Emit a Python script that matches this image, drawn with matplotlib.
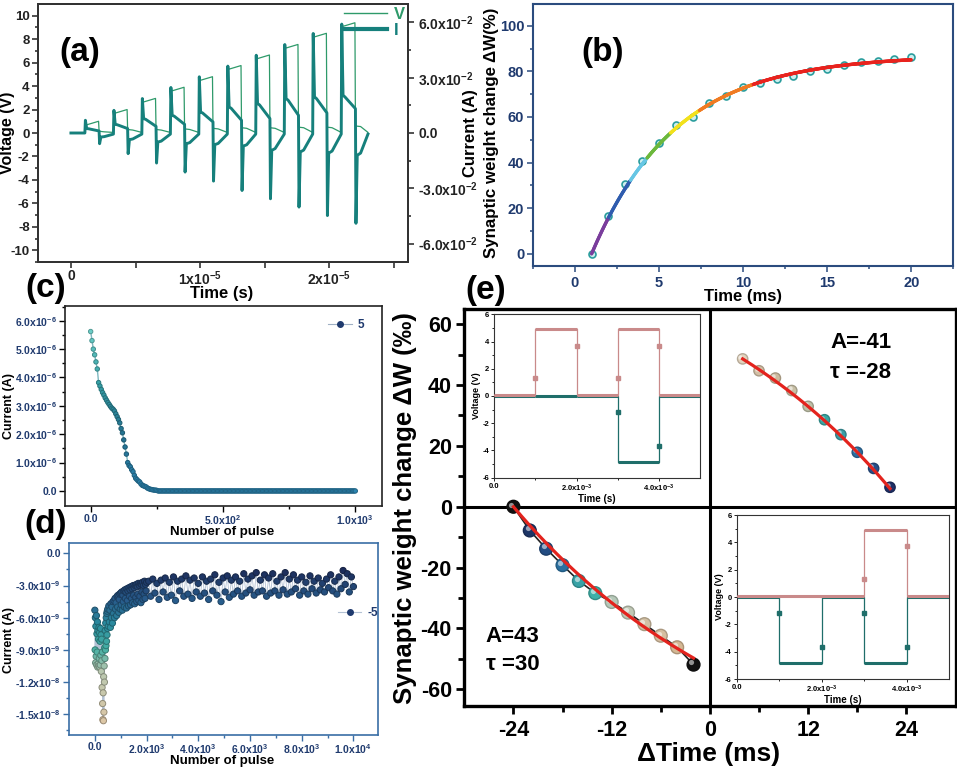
import numpy as np
import matplotlib
matplotlib.use('Agg')
import matplotlib.pyplot as plt
from matplotlib.collections import LineCollection
from matplotlib.colors import LinearSegmentedColormap, Normalize, to_rgb
from matplotlib.lines import Line2D
import matplotlib.transforms as mtransforms

plt.rcParams['font.family'] = ['Liberation Sans', 'DejaVu Sans']
plt.rcParams['font.weight'] = 'bold'
plt.rcParams['axes.labelweight'] = 'bold'
plt.rcParams['mathtext.fontset'] = 'custom'
plt.rcParams['mathtext.rm'] = 'Liberation Sans:bold'
plt.rcParams['mathtext.it'] = 'Liberation Sans:bold'
plt.rcParams['mathtext.bf'] = 'Liberation Sans:bold'
plt.rcParams['axes.unicode_minus'] = False

# ---------------- DATA ----------------
# (a) pulse train: times in units of 1e-5 s, V in volts, I in amperes
a_t_rise = [0.108, 0.329, 0.549, 0.770, 0.990, 1.211, 1.431, 1.652, 1.872, 2.093]
a_width = 0.110
a_t_end = 2.30
a_v_top = [0.95, 1.95, 2.9, 3.85, 4.75, 5.7, 6.6, 7.5, 8.45, 9.35]
a_v_after = [0.15, 0.3, 0.3, 0.35, 0.4, 0.45, 0.45, 0.5, 0.5, 0.6]
a_i_peak = [0.0069, 0.0123, 0.0187, 0.0247, 0.0305, 0.0363, 0.0422, 0.0480, 0.0540, 0.0591]
a_i_plat0 = [0.0024, 0.0047, 0.0078, 0.0096, 0.0114, 0.0141, 0.0160, 0.0187, 0.0196, 0.0205]
a_i_plat1 = [0.0011, 0.0024, 0.0036, 0.0047, 0.0060, 0.0069, 0.0078, 0.0096, 0.0109, 0.0132]
a_i_dip = [-0.0058, -0.0112, -0.0163, -0.0212, -0.0261, -0.0312, -0.0357, -0.0402, -0.0448, -0.0490]
a_i_rec = [-0.0022, -0.0036, -0.0049, -0.0058, -0.0063, -0.0071, -0.0094, -0.0103, -0.0109, -0.0121]

# (b) synaptic weight change vs time
b_time = [1, 2, 3, 4, 5, 6, 7, 8, 9, 10, 11, 12, 13, 14, 15, 16, 17, 18, 19, 20]
b_dw = [0, 16.6, 30.7, 40.9, 48.8, 56.5, 60.1, 66.0, 69.3, 73.0, 74.7, 76.8,
        78.0, 80.1, 81.0, 82.6, 84.1, 84.5, 85.3, 86.1]
b_fit_A, b_fit_tau, b_fit_t0 = 87.0, 5.0, 1.0
b_color_breaks = [1.0, 2.0, 3.3, 4.3, 5.7, 7.4, 10.6, 20.0]
b_seg_colors = ['#7a3d9c', '#2f5cae', '#66c6e4', '#6cb83c', '#f2e11c', '#f07b22', '#e8231e']

# (c) current vs pulse number (+5 V)
c_pulse_decay = list(range(0, 255, 5))
c_current_decay = [5.62, 5.30, 5.00, 4.80, 4.55, 4.30, 3.82, 3.70, 3.58, 3.47, 3.38, 3.28,
                   3.20, 3.12, 3.05, 2.98, 2.92, 2.88, 2.82, 2.72, 2.62, 2.52, 2.40, 2.20,
                   2.05, 1.80, 1.55, 1.30, 1.00, 0.90, 0.85, 0.75, 0.68, 0.55, 0.45, 0.40,
                   0.35, 0.32, 0.25, 0.20, 0.18, 0.16, 0.14, 0.10, 0.08, 0.06, 0.05, 0.04,
                   0.03, 0.03, 0.02]  # x1e-6 A
c_pulse_tail = list(range(255, 1001, 5))
c_tail_level = 0.0

# (d) current vs pulse number (-5 V), x1e-9 A
d_pulse = (list(range(0, 501, 10)) + list(range(520, 2001, 20)) + list(range(2080, 10001, 80)))
d_current = [
    -5.3, -9.0, -6.0, -10.2, -6.8, -9.6, -5.8, -10.4, -7.5, -9.2,
    -6.4, -10.6, -7.2, -10.3, -8.0, -10.5, -6.9, -9.8, -7.4, -10.6,
    -8.2, -10.4, -7.0, -9.5, -7.6, -11.0, -8.0, -10.0, -12.5, -9.2,
    -14.0, -15.5, -13.0, -15.6, -11.5, -14.8, -10.5, -12.0, -8.8, -9.8,
    -7.2, -9.0, -6.5, -8.6, -6.0, -8.2, -5.6, -7.6, -5.4, -7.0, -5.2,
    -6.8, -4.9, -6.4, -5.3, -6.9, -4.7, -6.0, -5.0, -6.5, -4.5,
    -5.6, -4.4, -6.0, -4.2, -5.2, -4.6, -5.8, -4.0, -5.0, -3.9,
    -5.5, -4.3, -3.8, -5.2, -3.7, -4.8, -3.6, -5.3, -3.9, -4.5,
    -3.5, -5.0, -3.4, -4.2, -3.6, -5.1, -3.3, -4.4, -3.5, -4.9,
    -3.2, -4.0, -3.4, -4.8, -3.1, -4.2, -3.3, -4.6, -3.0, -3.9,
    -3.2, -4.7, -3.0, -4.1, -2.9, -4.5, -3.1, -3.8, -2.8, -4.4,
    -3.0, -4.0, -2.8, -4.6, -2.9, -3.6, -2.7, -4.3, -3.0, -3.8,
    -2.6, -4.2, -2.9, -3.5, -2.7,
    -2.6, -4.0, -2.4, -3.7, -2.8, -4.3, -2.5, -3.6, -2.3, -4.1,
    -2.7, -3.9, -2.2, -4.4, -2.6, -3.5, -2.4, -4.0, -2.1, -3.8,
    -2.5, -4.2, -2.3, -3.6, -2.8, -4.0, -2.2, -3.7, -2.6, -4.3,
    -2.4, -3.5, -2.0, -3.9, -2.7, -4.5, -2.3, -3.6, -2.1, -4.1,
    -2.5, -3.8, -2.2, -3.5, -2.6, -4.0, -1.9, -3.7, -2.4, -3.4,
    -2.1, -3.9, -1.8, -3.6, -2.5, -3.5, -2.0, -4.0, -2.3, -3.7,
    -1.9, -3.5, -2.6, -3.9, -2.2, -3.4, -1.8, -3.8, -2.4, -3.6,
    -2.0, -3.3, -2.5, -3.9, -2.2, -3.5, -2.7, -3.8, -2.1, -3.3,
    -2.6, -3.7, -2.3, -3.4, -2.8, -3.6, -2.4, -3.2, -2.0, -3.5,
    -2.6, -3.8, -2.2, -3.3, -1.6, -2.9, -1.9, -3.6, -2.2, -3.1]

# (e) STDP
e_dt_pos = [4, 6, 8, 10, 12, 14, 16, 18, 20, 22]
e_dw_pos = [48.6, 44.7, 42.3, 38.2, 33.0, 28.6, 23.7, 17.9, 12.6, 6.4]
e_dt_neg = [-24, -22, -20, -18, -16, -14, -12, -10, -8, -6, -4, -2]
e_dw_neg = [0, -7.8, -13.8, -19.2, -24.4, -28.4, -31.3, -34.8, -38.6, -42.4, -46.2, -51.9]
e_fit_pos = dict(A=-41.0, tau=-28.0, c=95.9)
e_fit_neg = dict(A=43.0, tau=30.0, c=-95.7)
e_pos_colors = ['#e2d3bd', '#d3c0a6', '#cdbb9f', '#c8c0a6', '#bfc1a8', '#3aa8a4',
                '#3b9ea6', '#2e6ea0', '#28508a', '#1e2f66']
e_neg_colors = ['#111111', '#1d3566', '#224c82', '#2b70a0', '#38a2a6', '#3db0a8',
                '#b5c8b8', '#c0c8b5', '#d2c0a4', '#d6bea0', '#d4b894', '#111111']

# insets: time in ms, voltage in V
ins1_pink_t = [0, 1, 1, 2, 2, 3, 3, 4, 4, 5]
ins1_pink_v = [0.1, 0.1, 4.9, 4.9, 0.1, 0.1, 4.9, 4.9, 0.1, 0.1]
ins1_teal_t = [0, 1, 2, 3, 3, 4, 4, 5]
ins1_teal_v = [0, 0, 0, 0, -4.85, -4.85, 0, 0]
ins1_pink_edge = ([1, 2, 3, 4], [1.3, 3.7, 1.3, 3.7])
ins1_teal_edge = ([3, 4], [-1.2, -3.65])
ins2_pink_t = [0, 3, 3, 4, 4, 5]
ins2_pink_v = [0.1, 0.1, 4.9, 4.9, 0.1, 0.1]
ins2_teal_t = [0, 1, 1, 2, 2, 3, 3, 4, 4, 5]
ins2_teal_v = [0, 0, -4.85, -4.85, 0, 0, -4.85, -4.85, 0, 0]
ins2_pink_edge = ([3, 4], [1.3, 3.7])
ins2_teal_edge = ([1, 2, 3, 4], [-1.2, -3.65, -1.2, -3.65])

# ---------------- FIGURE ----------------
W, H = 957, 769
fig = plt.figure(figsize=(W / 100, H / 100), dpi=100)


def box(x0, y0, x1, y1):
    return [x0 / W, 1 - y1 / H, (x1 - x0) / W, (y1 - y0) / H]


def ftxt(x, y, s, **kw):
    kw.setdefault('ha', 'center')
    kw.setdefault('va', 'center')
    return fig.text(x / W, 1 - y / H, s, **kw)


def sci(m, e):
    return r'%s$\mathrm{x10^{%d}}$' % (m, e)


NAVY = '#1f3a6e'

# ---------- (a) ----------
cV, cI = '#2e9a6a', '#16807c'
axa = fig.add_axes(box(38, 4, 408, 262))
axa2 = axa.twinx()
Vt, Vv = [0.0], [0.0]
It, Iv = [0.0], [0.0]
for k in range(len(a_t_rise)):
    tr = a_t_rise[k]
    tf = tr + a_width
    tn = a_t_rise[k + 1] if k + 1 < len(a_t_rise) else a_t_end
    top = a_v_top[k]
    Vt += [tr, tr + 0.002, tr + 0.015, tf - 0.004, tf, tf + 0.04, tn]
    Vv += [Vv[-1], top - 0.05, top - 0.25, top + 0.05, a_v_after[k], a_v_after[k] - 0.05, 0.05]
    It += [tr, tr + 0.004, tr + 0.014, tr + 0.03, tf, tf + 0.004, tf + 0.014, tf + 0.04, tn]
    Iv += [Iv[-1], a_i_peak[k], a_i_plat0[k], a_i_plat0[k] * 0.95, a_i_plat1[k],
           a_i_dip[k], a_i_rec[k], a_i_rec[k] * 0.9, -0.0006]
Vt = np.array(Vt) * 1e-5
It = np.array(It) * 1e-5
axa.plot(Vt, Vv, color=cV, lw=0.9, zorder=3)
axa2.plot(It, Iv, color=cI, lw=2.1, zorder=2)
axa.set_xlim(-0.255e-5, 2.61e-5)
axa.set_ylim(-11, 11)
axa2.set_ylim(-0.07, 0.07)
axa.set_xticks(np.arange(0, 2.6e-5, 0.5e-5))
axa.set_xticklabels(['0', '', r'1$\mathrm{x10^{-5}}$', '', r'2$\mathrm{x10^{-5}}$', ''])
axa.set_yticks(np.arange(-10, 11, 2))
axa.set_yticks(np.arange(-11, 11, 1), minor=True)
axa2.set_yticks([-0.06, -0.03, 0, 0.03, 0.06])
axa2.set_yticklabels([sci('-6.0', -2), sci('-3.0', -2), '0.0', sci('3.0', -2), sci('6.0', -2)])
axa2.set_yticks(np.arange(-0.06, 0.07, 0.015), minor=True)
for ax in (axa, axa2):
    for s in ax.spines.values():
        s.set_color('#333333')
        s.set_linewidth(1.4)
    ax.tick_params(which='both', direction='out', width=1.1, colors='#222222', labelsize=10)
    ax.tick_params(which='major', length=4)
    ax.tick_params(which='minor', length=2.5)
axa.tick_params(axis='y', labelsize=9.5, pad=2)
axa.tick_params(axis='x', pad=1)
leg = axa2.legend([Line2D([], [], color=cV, lw=1), Line2D([], [], color=cI, lw=3)], ['V', 'I'],
                  loc='upper right', frameon=False, fontsize=12, handlelength=2.6,
                  labelspacing=0.05, borderaxespad=0.1, borderpad=0.1, handletextpad=0.4,
                  labelcolor='linecolor')
ftxt(8, 133, 'Voltage (V)', rotation=90, fontsize=11.5, fontweight='bold')
ftxt(471, 133, 'Current (A)', rotation=90, fontsize=12, fontweight='bold')
ftxt(222, 294, 'Time (s)', fontsize=12, fontweight='bold')
ftxt(80, 52, '(a)', fontsize=24, fontweight='bold')

# ---------- (b) ----------
BN = '#2b4c7e'
axb = fig.add_axes(box(532.7, 4, 953.3, 266))
tt = np.linspace(b_time[0], b_time[-1], 600)
yy = b_fit_A * (1 - np.exp(-(tt - b_fit_t0) / b_fit_tau))
pts = np.column_stack([tt, yy]).reshape(-1, 1, 2)
segs = np.concatenate([pts[:-1], pts[1:]], axis=1)
mids = 0.5 * (tt[:-1] + tt[1:])
idx = np.clip(np.searchsorted(b_color_breaks, mids) - 1, 0, len(b_seg_colors) - 1)
axb.plot(b_time, b_dw, 'o', ms=5, mfc='#cdeeee', mec='#2a9d9d', mew=1.2, zorder=2)
axb.add_collection(LineCollection(segs, colors=[b_seg_colors[i] for i in idx], linewidths=2.4,
                                  capstyle='round', zorder=3))
axb.set_xlim(-2.5, 22.5)
axb.set_ylim(-5.3, 109.5)
axb.set_xticks([0, 5, 10, 15, 20])
axb.set_xticks(np.arange(-2.5, 23, 2.5), minor=True)
axb.set_yticks(np.arange(0, 101, 20))
axb.set_yticks(np.arange(0, 110, 10), minor=True)
for s in axb.spines.values():
    s.set_color(BN)
    s.set_linewidth(1.5)
axb.tick_params(which='both', direction='out', colors=BN, width=1.1, labelsize=10.5,
                labelcolor=NAVY)
axb.tick_params(which='major', length=4)
axb.tick_params(which='minor', length=2.5)
axb.tick_params(axis='y', pad=2)
ftxt(491, 133, 'Synaptic weight change ΔW(%)', rotation=90, fontsize=12.2, fontweight='bold')
ftxt(743, 296, 'Time (ms)', fontsize=12, fontweight='bold')
ftxt(603, 52, '(b)', fontsize=24, fontweight='bold')

# ---------- (c) ----------
axc = fig.add_axes(box(65, 306, 382, 506))
cmap_c = LinearSegmentedColormap.from_list('c', ['#2b84b0', '#237090', '#35a0a6', '#6ccfc8'])
c_x = np.array(c_pulse_decay + c_pulse_tail)
c_y = np.array(c_current_decay + [c_tail_level] * len(c_pulse_tail)) * 1e-6
norm_c = Normalize(0, 5.7e-6)
fc = cmap_c(norm_c(c_y))
ec = fc.copy()
ec[:, :3] *= 0.75
axc.plot(c_x, c_y, color='#7fb8c0', lw=1.0, zorder=1)
axc.scatter(c_x, c_y, s=10, facecolors=fc, edgecolors=ec, linewidths=0.7, zorder=2)
axc.set_xlim(-97, 1101)
axc.set_ylim(-0.53e-6, 6.52e-6)
axc.set_xticks([0, 500, 1000])
axc.set_xticklabels(['0.0', sci('5.0', 2), sci('1.0', 3)])
axc.set_xticks(np.arange(0, 1001, 250), minor=True)
axc.set_yticks(np.arange(0, 6.1e-6, 1e-6))
axc.set_yticklabels(['0.0'] + [sci('%.1f' % v, -6) for v in range(1, 7)])
axc.set_yticks(np.arange(0, 6.6e-6, 0.5e-6), minor=True)
for s in axc.spines.values():
    s.set_color('#222222')
    s.set_linewidth(1.2)
axc.tick_params(which='both', direction='out', width=1.0, labelsize=7.5, labelcolor=NAVY, pad=2)
axc.tick_params(which='major', length=4)
axc.tick_params(which='minor', length=2.5)
axc.tick_params(axis='x', pad=1.5)
axc.legend([Line2D([], [], color='#9fb0c4', lw=0.8, marker='o', ms=4, mfc=NAVY, mec=NAVY)], ['5'],
           loc='center left', bbox_to_anchor=(0.83, 0.905), frameon=False, fontsize=8.5,
           borderpad=0, borderaxespad=0, handlelength=2.0, handletextpad=0.5, labelcolor=NAVY)
ftxt(9, 406, 'Current (A)', rotation=90, fontsize=9, fontweight='bold')
ftxt(222, 532, 'Number of pulse', fontsize=9.5, fontweight='bold')
ftxt(46, 288, '(c)', fontsize=24, fontweight='bold')

# ---------- (d) ----------
axd = fig.add_axes(box(69, 542.7, 378, 735))
cmap_d = LinearSegmentedColormap.from_list('d', [(0.0, '#dcc7a6'), (0.33, '#b9c8b0'),
                                                 (0.48, '#45b0a4'), (0.65, '#2a8a9e'),
                                                 (0.8, '#285c8c'), (1.0, '#1c2c5a')])
d_x = np.array(d_pulse)
d_y = np.array(d_current) * 1e-9
norm_d = Normalize(-15.6e-9, -1.6e-9)
fd = cmap_d(norm_d(d_y))
ed = fd.copy()
ed[:, :3] *= 0.7
axd.plot(d_x, d_y, color='#b4c2d4', lw=0.6, zorder=1)
axd.scatter(d_x, d_y, s=20, facecolors=fd, edgecolors=ed, linewidths=0.7, zorder=2)
axd.set_xlim(-1000, 10950)
axd.set_ylim(-16.93e-9, 0.99e-9)
axd.set_xticks([0, 2000, 4000, 6000, 8000, 10000])
axd.set_xticklabels(['0.0', sci('2.0', 3), sci('4.0', 3), sci('6.0', 3), sci('8.0', 3), sci('1.0', 4)])
axd.set_xticks(np.arange(0, 10001, 1000), minor=True)
axd.set_yticks(np.arange(-15e-9, 0.1e-9, 3e-9))
axd.set_yticklabels([sci('-1.5', -8), sci('-1.2', -8), sci('-9.0', -9), sci('-6.0', -9),
                     sci('-3.0', -9), '0.0'])
axd.set_yticks(np.arange(-16.5e-9, 0.5e-9, 1.5e-9), minor=True)
for s in axd.spines.values():
    s.set_color('#3a6ea5')
    s.set_linewidth(1.2)
axd.tick_params(which='both', direction='out', width=1.0, colors='#3a6ea5', labelsize=7.5,
                labelcolor=NAVY, pad=2)
axd.tick_params(which='major', length=4)
axd.tick_params(which='minor', length=2.5)
axd.tick_params(axis='x', pad=1)
axd.legend([Line2D([], [], color='#b4c2d4', lw=0.8, marker='o', ms=4, mfc=NAVY, mec=NAVY)], ['-5'],
           loc='center left', bbox_to_anchor=(0.87, 0.634), frameon=False, fontsize=8.5,
           borderpad=0, borderaxespad=0, handlelength=2.0, handletextpad=0.5, labelcolor=NAVY)
ftxt(9, 640, 'Current (A)', rotation=90, fontsize=9, fontweight='bold')
ftxt(222, 761, 'Number of pulse', fontsize=9.5, fontweight='bold')
ftxt(46, 524, '(d)', fontsize=24, fontweight='bold')

# ---------- (e) ----------
axe = fig.add_axes(box(464.3, 309, 955.5, 706))
axe.set_xlim(-30, 30)
axe.set_ylim(-65.5, 65)
axe.axhline(0, color='black', lw=2.2, zorder=1)
axe.axvline(0, color='black', lw=2.2, zorder=1)
tp = np.linspace(e_dt_pos[0], e_dt_pos[-1], 200)
tn = np.linspace(e_dt_neg[0], e_dt_neg[-1], 200)
fit_p = e_fit_pos['c'] + e_fit_pos['A'] * np.exp(-tp / e_fit_pos['tau'])
fit_n = e_fit_neg['c'] + e_fit_neg['A'] * np.exp(-tn / e_fit_neg['tau'])
hl = mtransforms.offset_copy(axe.transData, fig=fig, x=-1.6, y=1.6, units='points')
axe.plot(e_dt_neg, e_dw_neg, color='#222222', lw=1.2, zorder=2)
axe.scatter(e_dt_pos, e_dw_pos, s=55, c=e_pos_colors,
            edgecolors=[tuple(np.array(to_rgb(c)) * 0.8) for c in e_pos_colors], linewidths=1.0, zorder=3)
axe.scatter(e_dt_pos, e_dw_pos, s=10, c='white', alpha=0.55, linewidths=0, transform=hl, zorder=4)
axe.scatter(e_dt_neg, e_dw_neg, s=85, c=e_neg_colors,
            edgecolors=[tuple(np.array(to_rgb(c)) * 0.8) for c in e_neg_colors], linewidths=1.0, zorder=3)
axe.scatter(e_dt_neg, e_dw_neg, s=14, c='white', alpha=0.55, linewidths=0, transform=hl, zorder=4)
axe.plot(tp, fit_p, color='#e3231d', lw=2.3, zorder=5)
axe.plot(tn, fit_n, color='#e3231d', lw=2.3, zorder=5)
axe.set_xticks([-24, -12, 0, 12, 24])
axe.set_xticks([-18, -6, 6, 18], minor=True)
axe.set_yticks(np.arange(-60, 61, 20))
axe.set_yticks(np.arange(-50, 51, 20), minor=True)
for s in axe.spines.values():
    s.set_color('black')
    s.set_linewidth(2.4)
axe.tick_params(which='both', direction='out', width=2.0, labelsize=15.5, pad=3)
axe.tick_params(axis='x', pad=4)
axe.tick_params(which='major', length=6)
axe.tick_params(which='minor', length=4)
axe.text(14.7, 53.9, 'A=-41', fontsize=16, fontweight='bold', ha='left', va='center')
axe.text(14.7, 44.0, 'τ =-28', fontsize=16, fontweight='bold', ha='left', va='center')
axe.text(-27.4, -42.5, 'A=43', fontsize=16, fontweight='bold', ha='left', va='center')
axe.text(-27.4, -51.7, 'τ =30', fontsize=16, fontweight='bold', ha='left', va='center')
ftxt(405, 508, 'Synaptic weight change ΔW (‰)', rotation=90, fontsize=18.5, fontweight='bold')
ftxt(709, 754, 'ΔTime (ms)', fontsize=19, fontweight='bold')
ftxt(486, 290, '(e)', fontsize=24, fontweight='bold')

PINK, TEAL = '#c98a8a', '#1f6e6a'


def draw_wave(ax, t, v, color, z):
    t = np.array(t) * 1e-3
    v = np.array(v)
    ax.plot(t, v, color=color, lw=0.9, zorder=z)
    for i in range(len(t) - 1):
        if v[i] == v[i + 1]:
            ax.plot(t[i:i + 2], v[i:i + 2], color=color, lw=2.2, solid_capstyle='butt', zorder=z)


def inset(rect, pt, pv, tt_, tv, pe, te):
    ax = fig.add_axes(rect)
    ax.set_facecolor('white')
    draw_wave(ax, tt_, tv, TEAL, 2)
    draw_wave(ax, pt, pv, PINK, 3)
    ax.plot(np.array(te[0]) * 1e-3, te[1], 's', ms=2.6, color=TEAL, zorder=4)
    ax.plot(np.array(pe[0]) * 1e-3, pe[1], 's', ms=2.6, color=PINK, zorder=4)
    ax.set_xlim(0, 5e-3)
    ax.set_ylim(-6, 6)
    ax.set_xticks([0, 2e-3, 4e-3])
    ax.set_xticklabels(['0.0', sci('2.0', -3), sci('4.0', -3)])
    ax.set_xticks([1e-3, 3e-3], minor=True)
    ax.set_yticks(np.arange(-6, 7, 2))
    ax.set_yticks(np.arange(-5, 6, 2), minor=True)
    for s in ax.spines.values():
        s.set_color('#333333')
        s.set_linewidth(0.8)
    ax.tick_params(which='both', direction='out', width=0.6, labelsize=5.5, pad=1)
    ax.tick_params(which='major', length=2.5)
    ax.tick_params(which='minor', length=1.5)
    ax.set_xlabel('Time (s)', fontsize=7, labelpad=0)
    ax.set_ylabel('Voltage (V)', fontsize=6.5, labelpad=1)
    return ax


inset(box(494.3, 314.3, 700, 477.7), ins1_pink_t, ins1_pink_v, ins1_teal_t, ins1_teal_v,
      ins1_pink_edge, ins1_teal_edge)
inset(box(736.7, 515, 949.3, 679), ins2_pink_t, ins2_pink_v, ins2_teal_t, ins2_teal_v,
      ins2_pink_edge, ins2_teal_edge)

fig.savefig('out.png', dpi=100)
